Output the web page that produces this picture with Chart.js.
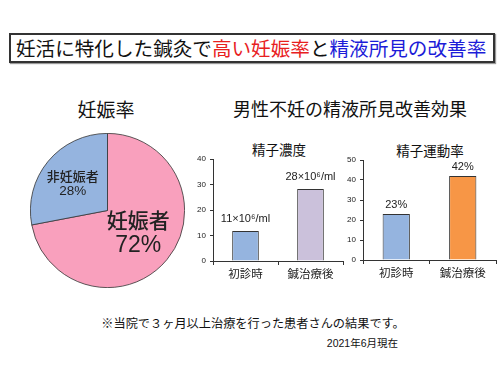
<!DOCTYPE html>
<html>
<head>
<meta charset="utf-8">
<script src="https://cdn.jsdelivr.net/npm/chart.js@4"></script>
<style>
  body { margin: 0; width: 500px; height: 375px; background: #fff; position: relative; overflow: hidden;
         font-family: "Liberation Sans", "Noto Sans CJK JP", sans-serif; color: #111; }
  .abs { position: absolute; white-space: nowrap; }
  #headline { left: 9px; top: 33px; width: 477px; height: 26px; border: 2px solid #333;
              box-shadow: 1px 1px 1px #999; font-size: 19.6px; line-height: 26px; padding-left: 5px;
              font-family: "Noto Sans CJK JP", sans-serif; }
  .red { color: #e8201e; }
  .blue { color: #1c1cd8; }
  .ctr { transform: translate(-50%, -50%); }
  .box { position: absolute; }
</style>
</head>
<body>
<div id="headline" class="abs">妊活に特化した鍼灸で<span class="red">高い妊娠率</span>と<span class="blue">精液所見の改善率</span></div>

<div class="abs ctr" style="left:106px; top:108px; font-size:19px;">妊娠率</div>
<div class="abs ctr" style="left:350px; top:108px; font-size:18px;">男性不妊の精液所見改善効果</div>
<div class="abs ctr" style="left:279px; top:149px; font-size:13.5px;">精子濃度</div>
<div class="abs ctr" style="left:430px; top:150px; font-size:13.5px;">精子運動率</div>

<div class="box" style="left:30px; top:133px; width:155px; height:155px;"><canvas id="pie"></canvas></div>
<div class="box" style="left:185px; top:150px; width:165px; height:135px;"><canvas id="conc"></canvas></div>
<div class="box" style="left:335px; top:150px; width:165px; height:135px;"><canvas id="motil"></canvas></div>

<div class="abs ctr" style="left:253px; top:323px; font-size:12.2px;">※当院で３ヶ月以上治療を行った患者さんの結果です。</div>
<div class="abs" style="right:102px; top:335px; font-size:10.5px;">2021年6月現在</div>

<script>
const pieLabels = ['妊娠者', '非妊娠者'];
const pieValues = [72, 28];
const pieColors = ['#f9a0bd', '#95b4df'];

const barCategories = ['初診時', '鍼治療後'];
const concValues = [11.8, 28.2];
const concText = ['11×10⁶/ml', '28×10⁶/ml'];
const concTicks = [0, 10, 20, 30, 40];
const motilValues = [23, 42];
const motilText = ['23%', '42%'];
const motilTicks = [0, 10, 20, 30, 40, 50];

const FONT = '"Liberation Sans", "Noto Sans CJK JP", sans-serif';

// labels inside the pie slices
const pieLabelPlugin = {
  id: 'pieLabels',
  afterDatasetsDraw(chart) {
    const ctx = chart.ctx;
    const arcs = chart.getDatasetMeta(0).data;
    const styles = [
      { r: 0.5, big: 21, small: 23, gap: 24, dx: 1, dy: -1 },
      { r: 0.72, big: 13, small: 13.5, gap: 14, dx: 8, dy: 9 }
    ];
    arcs.forEach((arc, i) => {
      const s = styles[i];
      const mid = (arc.startAngle + arc.endAngle) / 2;
      const x = arc.x + Math.cos(mid) * arc.outerRadius * s.r + s.dx;
      const y = arc.y + Math.sin(mid) * arc.outerRadius * s.r + s.dy;
      ctx.save();
      ctx.fillStyle = '#222';
      ctx.textAlign = 'center';
      ctx.textBaseline = 'middle';
      ctx.font = '500 ' + s.big + 'px ' + FONT;
      ctx.fillText(pieLabels[i], x, y - s.gap / 2);
      ctx.font = s.small + 'px ' + FONT;
      ctx.fillText(pieValues[i] + '%', x, y + s.gap / 2);
      ctx.restore();
    });
  }
};

new Chart(document.getElementById('pie'), {
  type: 'pie',
  data: {
    labels: pieLabels,
    datasets: [{ data: pieValues, backgroundColor: pieColors, borderColor: '#333', borderWidth: 0.8 }]
  },
  options: {
    responsive: true, maintainAspectRatio: false, animation: false,
    layout: { padding: 0 },
    plugins: { legend: { display: false }, tooltip: { enabled: false } }
  },
  plugins: [pieLabelPlugin]
});

// text above each bar
const barTextPlugin = {
  id: 'barText',
  afterDatasetsDraw(chart, args, opts) {
    const ctx = chart.ctx;
    chart.getDatasetMeta(0).data.forEach((bar, i) => {
      ctx.save();
      ctx.fillStyle = '#222';
      ctx.font = '11px ' + FONT;
      ctx.textAlign = 'center';
      ctx.textBaseline = 'middle';
      ctx.fillText(opts.texts[i], bar.x, bar.y - opts.offset);
      ctx.restore();
    });
  }
};

function makeBar(id, values, colors, texts, ticks, pad, offset) {
  return new Chart(document.getElementById(id), {
    type: 'bar',
    data: {
      labels: barCategories,
      datasets: [{
        data: values, backgroundColor: colors, borderColor: '#333', borderWidth: 1,
        categoryPercentage: 1, barPercentage: 0.41
      }]
    },
    options: {
      responsive: true, maintainAspectRatio: false, animation: false,
      layout: { padding: pad },
      plugins: {
        legend: { display: false }, tooltip: { enabled: false },
        barText: { texts: texts, offset: offset }
      },
      scales: {
        x: {
          grid: { display: true, drawOnChartArea: false, drawTicks: true, tickLength: 4, color: '#333', offset: true },
          border: { color: '#333', width: 1 },
          ticks: { color: '#222', font: { size: 11.5, family: '"Noto Sans CJK JP", sans-serif' }, padding: 2 },
          afterFit(s) { s.height = 20; }
        },
        y: {
          min: ticks[0], max: ticks[ticks.length - 1],
          afterBuildTicks(s) { s.ticks = ticks.map(v => ({ value: v })); },
          grid: { display: true, drawOnChartArea: false, drawTicks: true, tickLength: 3, color: '#333' },
          border: { color: '#333', width: 1 },
          ticks: { color: '#222', font: { size: 8, family: FONT }, padding: 4 },
          afterFit(s) { s.width = 23; }
        }
      }
    },
    plugins: [barTextPlugin]
  });
}

makeBar('conc', concValues, ['#95b4df', '#cbc1db'], concText, concTicks,
  { left: 5, right: 7, top: 9, bottom: 4 }, 12);
makeBar('motil', motilValues, ['#95b4df', '#f79646'], motilText, motilTicks,
  { left: 5, right: 4, top: 10, bottom: 5 }, 9);
</script>
</body>
</html>
